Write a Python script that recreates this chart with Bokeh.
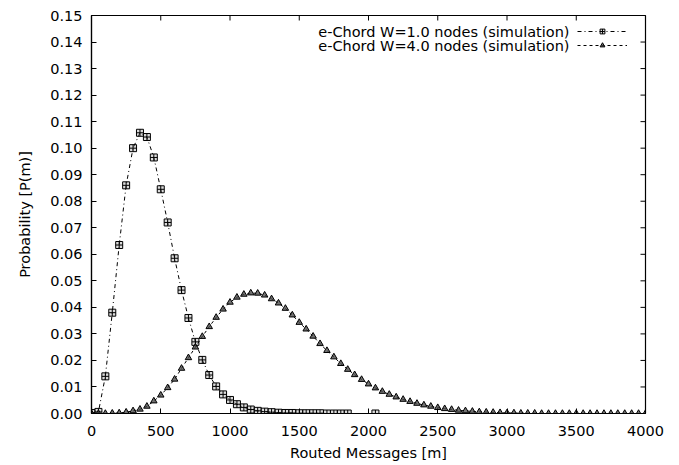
from bokeh.plotting import figure
from bokeh.models import Range1d, FixedTicker, PrintfTickFormatter, Legend, LegendItem, Label
from bokeh.embed import file_html
from bokeh.resources import INLINE

# ---------------- data ----------------
w1_x = [0, 50, 100, 150, 200, 250, 300, 350, 400, 450, 500, 550, 600, 650, 700, 750,
        800, 850, 900, 950, 1000, 1050, 1100, 1150, 1200, 1250, 1300, 1350, 1400, 1450,
        1500, 1550, 1600, 1650, 1700, 1750, 1800, 1850, 2050]
w1_y = [0.0002, 0.0006, 0.0140, 0.0380, 0.0635, 0.0860, 0.1000, 0.1058, 0.1042, 0.0965,
        0.0845, 0.0720, 0.0585, 0.0465, 0.0360, 0.0270, 0.0202, 0.0145, 0.0102, 0.0072,
        0.0051, 0.0035, 0.0023, 0.0015, 0.0010, 0.0007, 0.0005, 0.0003, 0.0002, 0.0002,
        0.0001, 0.0001, 0.0001, 0.0001, 0.0, 0.0, 0.0, 0.0, 0.0]

w4_x = [0, 50, 100, 150, 200, 250, 300, 350, 400, 450, 500, 550, 600, 650, 700, 750,
        800, 850, 900, 950, 1000, 1050, 1100, 1150, 1200, 1250, 1300, 1350, 1400, 1450,
        1500, 1550, 1600, 1650, 1700, 1750, 1800, 1850, 1900, 1950, 2000, 2050, 2100,
        2150, 2200, 2250, 2300, 2350, 2400, 2450, 2500, 2550, 2600, 2650, 2700, 2750,
        2800, 2850, 2900, 2950, 3000, 3050, 3100, 3150, 3200, 3250, 3300, 3350, 3400,
        3450, 3500, 3550, 3600, 3650, 3700, 3750, 3800, 3850, 3900, 3950, 4000]
w4_y = [0.0, 0.0, 0.0, 0.0001, 0.0002, 0.0005, 0.0010, 0.0016, 0.0027, 0.0047,
        0.0069, 0.0097, 0.0129, 0.0170, 0.0210, 0.0250, 0.0290, 0.0327, 0.0362, 0.0393,
        0.0419, 0.0438, 0.0449, 0.0454, 0.0453, 0.0446, 0.0432, 0.0416, 0.0396, 0.0371,
        0.0343, 0.0318, 0.0291, 0.0263, 0.0237, 0.0213, 0.0188, 0.0166, 0.0146, 0.0128,
        0.0111, 0.0096, 0.0083, 0.0072, 0.0062, 0.0053, 0.0045, 0.0038, 0.0032, 0.0027,
        0.0022, 0.0018, 0.0015, 0.0012, 0.0010, 0.0008, 0.0006, 0.0005, 0.0004, 0.0003,
        0.0002, 0.0002, 0.0001, 0.0001, 0.0001, 0.0, 0.0, 0.0, 0.0, 0.0,
        0.0, 0.0, 0.0, 0.0, 0.0, 0.0, 0.0, 0.0, 0.0, 0.0, 0.0]

x_ticks = [0, 500, 1000, 1500, 2000, 2500, 3000, 3500, 4000]
y_ticks = [0.00, 0.01, 0.02, 0.03, 0.04, 0.05, 0.06, 0.07, 0.08, 0.09, 0.10,
           0.11, 0.12, 0.13, 0.14, 0.15]

label_w1 = "e-Chord W=1.0 nodes (simulation)"
label_w4 = "e-Chord W=4.0 nodes (simulation)"

FONT = "DejaVu Sans"
FS = "14.5px"
X_MAX, Y_MAX = 4000, 0.15
W, H = 675, 465
BL, BR, BT, BB = 91, 30, 15, 52
FRAME_W, FRAME_H = W - BL - BR, H - BT - BB
TICK_PX = 5

p = figure(width=W, height=H, output_backend="svg", toolbar_location=None,
           x_range=Range1d(0, X_MAX), y_range=Range1d(0, Y_MAX),
           x_axis_label="Routed Messages [m]", y_axis_label="Probability [P(m)]",
           min_border_left=BL, min_border_right=BR, min_border_top=BT, min_border_bottom=BB)
p.grid.visible = False
p.outline_line_color = "black"
p.outline_line_width = 1.2
p.background_fill_color = "white"

for ax, ticks in ((p.xaxis[0], x_ticks), (p.yaxis[0], y_ticks)):
    ax.ticker = FixedTicker(ticks=ticks)
    ax.axis_line_color = "black"
    ax.axis_line_width = 1.2
    ax.major_tick_in = TICK_PX
    ax.major_tick_out = 0
    ax.major_tick_line_color = "black"
    ax.minor_tick_line_color = None
    ax.major_label_text_font = FONT
    ax.major_label_text_font_size = FS
    ax.major_label_text_color = "black"
    ax.axis_label_text_font = FONT
    ax.axis_label_text_font_size = FS
    ax.axis_label_text_font_style = "normal"
    ax.axis_label_text_color = "black"

p.xaxis[0].major_label_standoff = 12
p.xaxis[0].axis_label_standoff = 6
p.yaxis[0].formatter = PrintfTickFormatter(format="%.2f")
p.yaxis[0].major_label_standoff = 9
p.yaxis[0].axis_label_standoff = 14

# mirrored inward ticks on the top and right borders
dy = TICK_PX * Y_MAX / FRAME_H
dx = TICK_PX * X_MAX / FRAME_W
p.segment(x0=x_ticks, y0=[Y_MAX] * len(x_ticks), x1=x_ticks,
          y1=[Y_MAX - dy] * len(x_ticks), line_color="black", line_width=1)
p.segment(x0=[X_MAX] * len(y_ticks), y0=y_ticks, x1=[X_MAX - dx] * len(y_ticks),
          y1=y_ticks, line_color="black", line_width=1)

r1_line = p.line(w1_x, w1_y, line_color="black", line_width=1, line_dash="4 3 1 3")
r1_pts = p.scatter(w1_x, w1_y, marker="square_cross", size=7, line_color="black",
                   line_width=1, fill_color="#999999", fill_alpha=0.35)
r2_line = p.line(w4_x, w4_y, line_color="black", line_width=1, line_dash="3 3")
r2_pts = p.scatter(w4_x, w4_y, marker="triangle", size=6.5, line_color="black",
                   line_width=1, fill_color="#444444", fill_alpha=0.75)

legend = Legend(items=[LegendItem(label=" ", renderers=[r1_line, r1_pts]),
                       LegendItem(label=" ", renderers=[r2_line, r2_pts])],
                location=(486, 362), glyph_width=50, glyph_height=12, spacing=2,
                padding=0, margin=0, label_standoff=0, label_width=0,
                label_text_font_size="1px", border_line_color=None,
                background_fill_alpha=0)
p.add_layout(legend)

for txt, yy in ((label_w1, 382), (label_w4, 368)):
    p.add_layout(Label(x=478, y=yy, x_units="screen", y_units="screen", text=txt,
                       text_align="right", text_baseline="middle", text_font=FONT,
                       text_font_size=FS, text_color="black"))

open("out.html", "w").write(file_html(p, INLINE))
